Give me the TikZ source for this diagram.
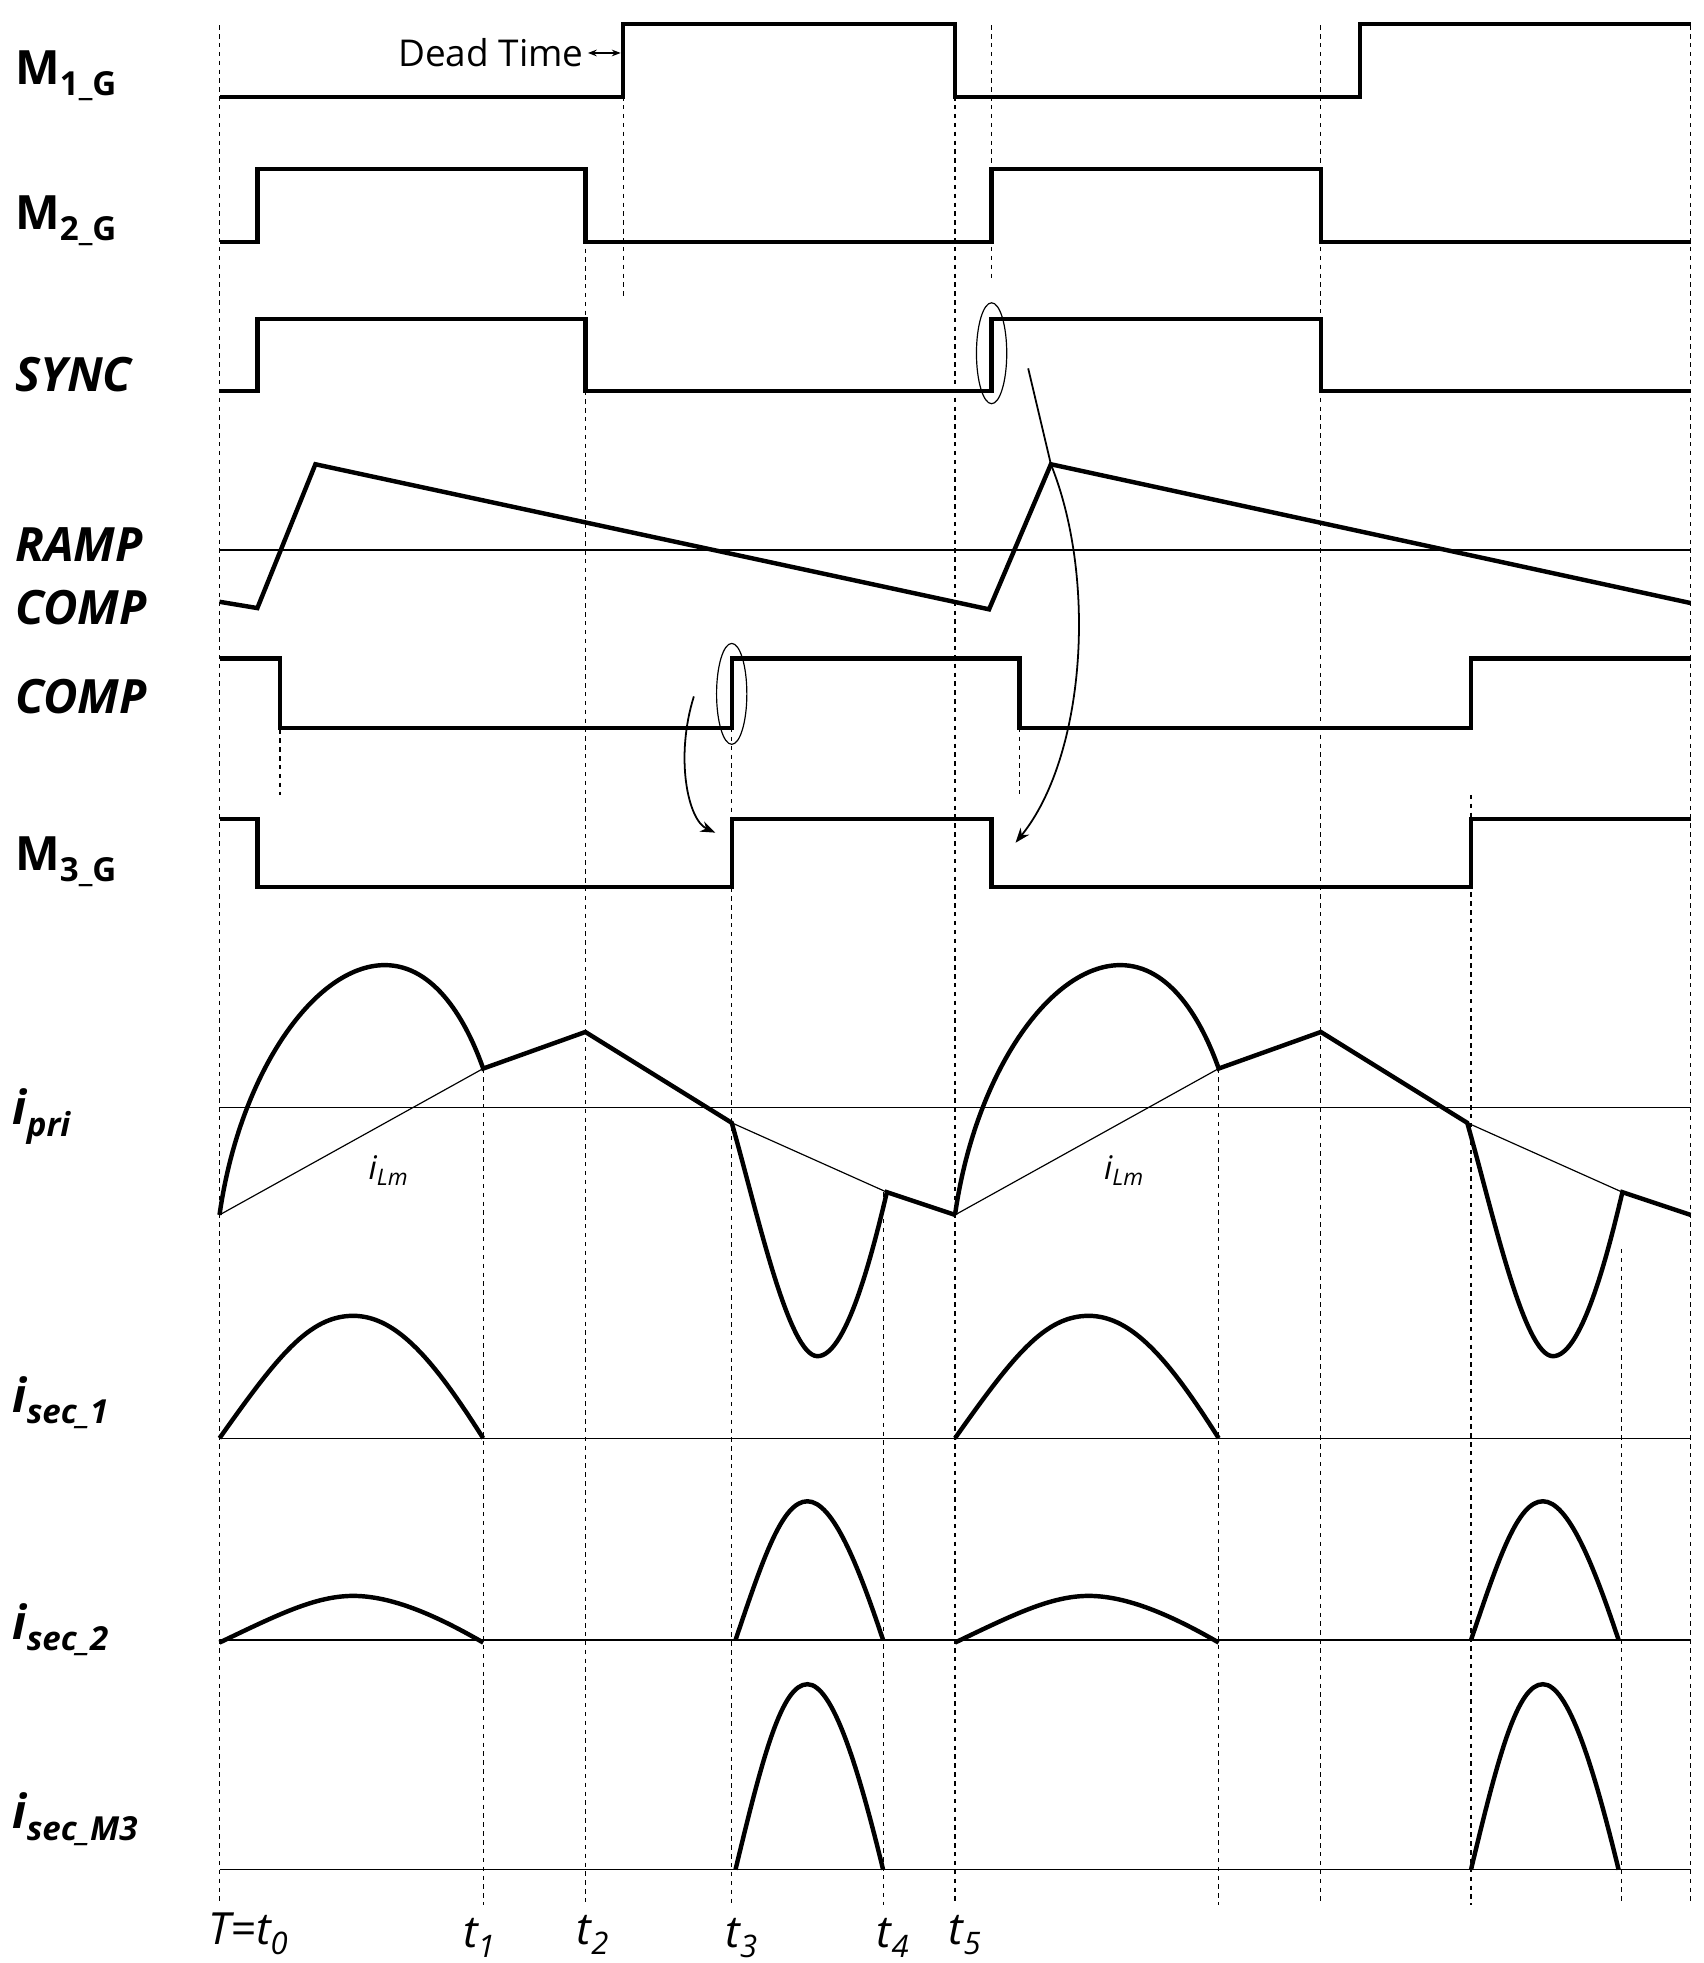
\documentclass[tikz,border=0pt]{standalone}
\usepackage{fontspec}
\setmainfont{Open Sans}
\usetikzlibrary{arrows.meta}
\begin{document}
\begin{tikzpicture}[x=0.3mm,y=-0.3mm,
  sig/.style={line width=3pt,line join=miter},
  thin/.style={line width=0.8pt},
  vd/.style={line width=0.8pt,dash pattern=on 3pt off 3pt},
  lab/.style={font=\bfseries\fontsize{32}{34}\selectfont,anchor=west},
  labi/.style={font=\bfseries\itshape\fontsize{32}{34}\selectfont,anchor=west},
  tl/.style={font=\itshape\fontsize{30}{32}\selectfont}]
\useasboundingbox (0,0) rectangle (1350,1556);
% dashed verticals
\foreach \x/\a/\b in {174/20/1510,494/20/235,464/190/1510,757/20/1510,786/20/220,222/522/630,808/577/630,580/577/1510,383/847/1510,700/945/1510,966/847/1510,1047/20/1510,1166/630/1510,1285/990/1510,1340/20/1510}
  \draw[vd] (\x,\a) -- (\x,\b);
% labels
\node[lab] (m1) at (8,60) {M\textsubscript{1\_G}};
\node[lab] (m2) at (8,175) {M\textsubscript{2\_G}};
\node[labi] (sy) at (8,297) {SYNC};
\node[labi] (ra) at (8,432) {RAMP};
\node[labi] (c1) at (8,482) {COMP};
\node[labi] (c2) at (8,552) {COMP};
\node[lab] (m3) at (8,683) {M\textsubscript{3\_G}};
\node[labi] (ip) at (6,885) {i\textsubscript{pri}};
\node[labi] (s1) at (6,1112) {i\textsubscript{sec\_1}};
\node[labi] (s2) at (6,1292) {i\textsubscript{sec\_2}};
\node[labi] (s3) at (6,1442) {i\textsubscript{sec\_M3}};
% signals
\draw[sig] (174,77)--(494,77)--(494,19)--(757,19)--(757,77)--(1078,77)--(1078,19)--(1340,19);
\draw[sig] (174,192)--(204,192)--(204,134)--(464,134)--(464,192)--(786,192)--(786,134)--(1047,134)--(1047,192)--(1340,192);
\draw[sig] (174,310)--(204,310)--(204,253)--(464,253)--(464,310)--(786,310)--(786,253)--(1047,253)--(1047,310)--(1340,310);
\draw[thin] (174,436)--(1340,436);
\draw[sig] (174,477)--(204,482)--(250,368)--(784,483)--(833,368)--(1340,478);
\draw[sig] (174,522)--(222,522)--(222,577)--(580,577)--(580,522)--(808,522)--(808,577)--(1166,577)--(1166,522)--(1340,522);
\draw[sig] (174,649)--(204,649)--(204,703)--(580,703)--(580,649)--(786,649)--(786,703)--(1166,703)--(1166,649)--(1340,649);
% baselines
\foreach \y in {878,1140,1300,1482} \draw[thin] (174,\y)--(1340,\y);
% ipri
\foreach \o in {0,583}{
 \begin{scope}[xshift=\o*0.3mm]
 \draw[sig] (174,963) .. controls (190,850) and (250,765) .. (305,765) .. controls (345,765) and (370,810) .. (383,847) -- (464,818) -- (580,890)
   .. controls (600,960) and (625,1075) .. (648,1075) .. controls (670,1075) and (690,1000) .. (703,945) -- (757,963);
 \draw[thin] (174,963)--(383,847);
 \draw[thin] (580,890)--(703,945);
 \draw[sig] (174,1140) .. controls (220,1075) and (245,1043) .. (280,1043) .. controls (315,1043) and (345,1080) .. (383,1140);
 \draw[sig] (174,1302) .. controls (220,1280) and (250,1265) .. (280,1265) .. controls (310,1265) and (345,1280) .. (383,1302);
 \end{scope}}
\foreach \o in {0,583}{
 \begin{scope}[xshift=\o*0.3mm]
 \draw[sig] (583,1300) .. controls (605,1235) and (620,1190) .. (640,1190) .. controls (660,1190) and (680,1240) .. (700,1300);
 \draw[sig] (583,1482) .. controls (605,1390) and (620,1335) .. (640,1335) .. controls (660,1335) and (680,1400) .. (700,1482);
 \end{scope}}
\node[font=\itshape\fontsize{22}{24}\selectfont] (lm1) at (308,928) {i\textsubscript{Lm}};
\node[font=\itshape\fontsize{22}{24}\selectfont] (lm2) at (891,928) {i\textsubscript{Lm}};
% dead time
\node[font=\fontsize{25}{27}\selectfont,anchor=east,inner sep=1pt] (dt) at (464,42) {Dead Time};
\coordinate (da) at (466,42); \coordinate (db) at (492,42);
\draw[{Stealth[length=6pt]}-{Stealth[length=6pt]},line width=1pt] (da)--(db);
% ellipses and arrows
\draw[thin] (786,280) ellipse [x radius=12, y radius=40];
\draw[thin] (580,550) ellipse [x radius=12, y radius=40];
\coordinate (a0) at (815,292); \coordinate (a1) at (833,368); \coordinate (a2) at (805,668);
\draw[line width=1.2pt] (a0)--(a1);
\draw[line width=1.2pt,-{Stealth[length=10pt]}] (a1) .. controls (870,460) and (860,600) .. (a2);
\coordinate (b0) at (550,552); \coordinate (b1) at (567,660);
\draw[line width=1.2pt,-{Stealth[length=10pt]}] (b0) .. controls (535,600) and (545,650) .. (b1);
% time labels
\node[tl] (T0) at (197,1533) {T=t\textsubscript{0}};
\node[tl] (T1) at (380,1536) {t\textsubscript{1}};
\node[tl] (T2) at (470,1534) {t\textsubscript{2}};
\node[tl] (T3) at (588,1536) {t\textsubscript{3}};
\node[tl] (T4) at (708,1536) {t\textsubscript{4}};
\node[tl] (T5) at (765,1534) {t\textsubscript{5}};
\end{tikzpicture}
\end{document}
